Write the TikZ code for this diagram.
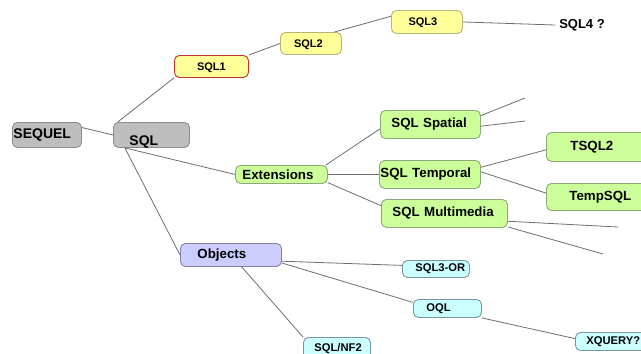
\documentclass[tikz,border=0pt]{standalone}
\usepackage{fontspec}
\setmainfont{Liberation Sans}
\usepackage{xcolor}
\usepackage{tikz}
\usetikzlibrary{calc}
\definecolor{grayfill}{HTML}{BEBEBE}
\definecolor{graydraw}{HTML}{8C8C8C}
\definecolor{yellowfill}{HTML}{FFFF99}
\definecolor{yellowdraw}{HTML}{B4B478}
\definecolor{redframe}{HTML}{C83232}
\definecolor{greenfill}{HTML}{CCFF99}
\definecolor{greendraw}{HTML}{8CA878}
\definecolor{lilacfill}{HTML}{CCCCFF}
\definecolor{lilacdraw}{HTML}{8282A8}
\definecolor{cyanfill}{HTML}{CCFFFF}
\definecolor{cyandraw}{HTML}{7896A0}
\definecolor{linkgray}{HTML}{6E6E6E}
\tikzstyle{base} = [rectangle, rounded corners=5pt, anchor=north west, inner ysep=0pt, text=black, line width=0.9pt]
\tikzstyle{graybox} = [base, fill=grayfill, draw=graydraw, align=left, font=\fontsize{14}{16}\selectfont\bfseries]
\tikzstyle{yellowbox} = [base, fill=yellowfill, draw=yellowdraw, align=center, font=\fontsize{11}{13}\selectfont\bfseries]
\tikzstyle{greenbox} = [base, fill=greenfill, draw=greendraw, align=left, font=\fontsize{13.3}{15}\selectfont\bfseries]
\tikzstyle{lilacbox} = [base, fill=lilacfill, draw=lilacdraw, align=left, font=\fontsize{13.3}{15}\selectfont\bfseries]
\tikzstyle{cyanbox} = [base, fill=cyanfill, draw=cyandraw, align=left, font=\fontsize{11.2}{13}\selectfont\bfseries]
\tikzstyle{link} = [draw=linkgray, line width=0.8pt]

\begin{document}
\begin{tikzpicture}[x=1pt,y=-1pt]
		\useasboundingbox (0,0) rectangle (641,354);
		\clip (0,0) rectangle (641,354);
		\fill[white] (0,0) rectangle (641,354);
		\node (sequel) [graybox, minimum height=25pt, inner xsep=1pt, text width=67pt] at (12,122) {SEQUEL};
		\node (sql) [graybox, minimum height=25pt, inner xsep=16pt, text width=44pt, inner ysep=1.5pt, text height=22pt, text depth=0pt] at (113,122) {SQL};
		\node (sql1) [yellowbox, draw=redframe, minimum height=22pt, inner xsep=2pt, text width=70pt, text depth=-1pt] at (174,55) {SQL1};
		\node (sql2) [yellowbox, minimum height=22pt, inner xsep=2pt, text width=57pt, text depth=-1pt] at (280,32) {\hspace*{-5pt}SQL2};
		\node (sql3) [yellowbox, minimum height=23pt, inner xsep=2pt, text width=67pt, text depth=-1pt] at (391,10) {\hspace*{-8pt}SQL3};
		\node (sql4) [font=\fontsize{13}{15}\selectfont\bfseries, inner sep=4pt] at (582,25) {SQL4 ?};
		\node (ext) [greenbox, minimum height=18pt, inner xsep=7pt, text width=78pt] at (235,165) {Extensions};
		\node (spatial) [greenbox, minimum height=28pt, inner xsep=11pt, text width=78pt] at (380,110) {SQL Spatial};
		\node (temporal) [greenbox, minimum height=28pt, inner xsep=1pt, text width=99pt] at (379,160) {SQL Temporal};
		\node (multimedia) [greenbox, minimum height=28pt, inner xsep=11pt, text width=104pt] at (381,199) {SQL Multimedia};
		\node (tsql2) [greenbox, minimum height=29pt, inner xsep=24pt, text width=62pt] at (546,132) {TSQL2};
		\node (tempsql) [greenbox, minimum height=27pt, inner xsep=23pt, text width=64pt] at (546,183) {TempSQL};
		\node (objects) [lilacbox, minimum height=23pt, inner xsep=17pt, text width=67pt] at (180,243) {Objects};
		\node (sql3or) [cyanbox, minimum height=17pt, inner xsep=2pt, text width=63pt] at (402,260) {\hspace*{11pt}SQL3-OR};
		\node (oql) [cyanbox, minimum height=18pt, inner xsep=13pt, text width=42pt] at (413,299) {OQL};
		\node (xquery) [cyanbox, minimum height=18pt, inner xsep=11pt, text width=58pt] at (575,332) {XQUERY?};
		\node (sqlnf2) [cyanbox, minimum height=24pt, inner xsep=11pt, text width=45pt, text height=10pt, text depth=6pt] at (303,337) {SQL/NF2};
		\coordinate (spat1) at (525,98);
		\coordinate (spat2) at (525,121);
		\coordinate (mult1) at (618,227);
		\coordinate (mult2) at (603,254);
		\draw [link](sequel.12) -- (sql.west);
		\draw [link](sql.159) -- (sql1.south west);
		\draw [link](sql1.north east) -- (sql2.west);
		\draw [link](sql2.26) -- (sql3.171);
		\draw [link](sql3.east) -- (sql4.west);
		\draw [link](sql.206) -- (ext.west);
		\draw [link](sql.206) -- (objects.west);
		\draw [link](ext.12) -- (spatial.185);
		\draw [link](ext.east) -- (temporal.west);
		\draw [link](ext.-10) -- (multimedia.173);
		\draw [link](spatial.10) -- (spat1);
		\draw [link](spatial.-2) -- (spat2);
		\draw [link](temporal.8) -- (tsql2.183);
		\draw [link](temporal.3) -- (tempsql.176);
		\draw [link](multimedia.-7) -- (mult1);
		\draw [link](multimedia.-12) -- (mult2);
		\draw [link](objects.-7) -- (sql3or.174);
		\draw [link](objects.-9) -- (oql.170);
		\draw [link](objects.-48) -- (sqlnf2.north west);
		\draw [link](oql.south east) -- (xquery.176);
	\end{tikzpicture}
\end{document}
